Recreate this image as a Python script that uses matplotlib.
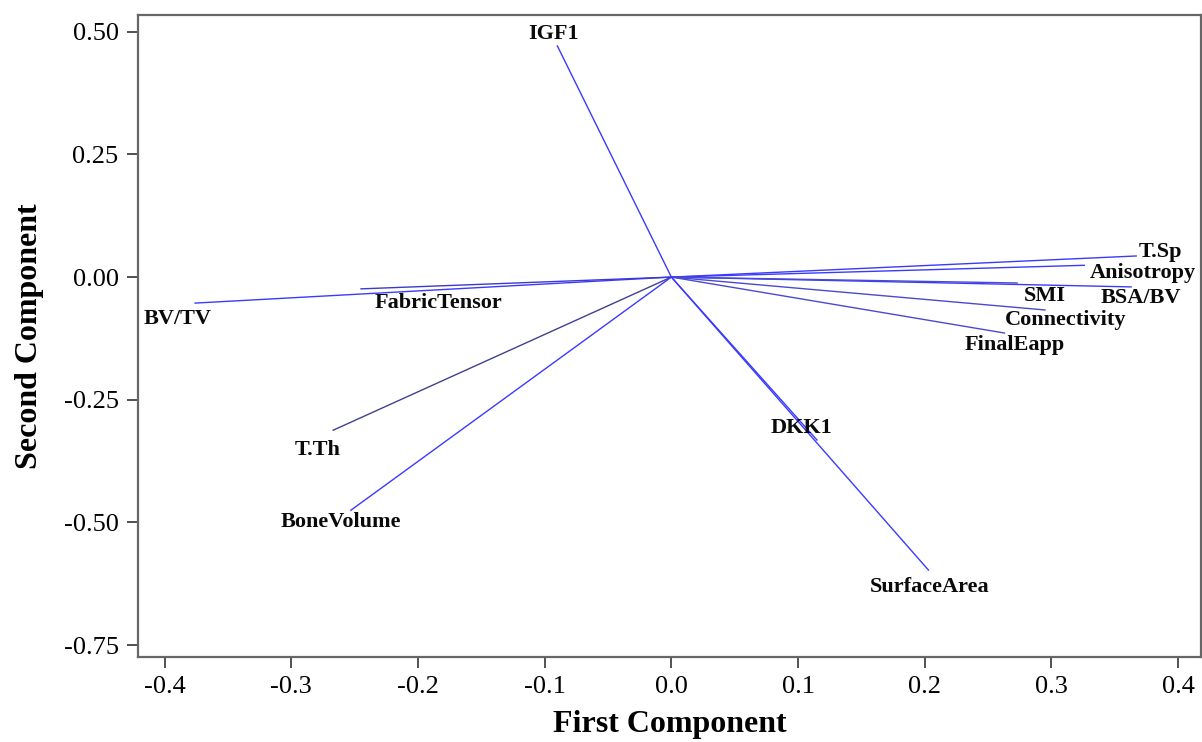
import matplotlib
matplotlib.use("Agg")
import matplotlib.pyplot as plt

# loadings on the first two principal components
variables = ["IGF1", "T.Sp", "Anisotropy", "BSA/BV", "SMI", "Connectivity",
             "FinalEapp", "BV/TV", "FabricTensor", "T.Th", "BoneVolume",
             "DKK1", "SurfaceArea"]
pc1 = [-0.090, 0.367, 0.326, 0.363, 0.273, 0.295,
       0.263, -0.376, -0.245, -0.267, -0.253, 0.115, 0.203]
pc2 = [0.471, 0.043, 0.024, -0.020, -0.012, -0.067,
       -0.114, -0.053, -0.024, -0.312, -0.475, -0.332, -0.597]

# where each name sits, relative to the tip of its line
lbl_dx = [-0.003, 0.019, 0.046, 0.008, 0.022, 0.016,
          0.008, -0.014, 0.061, -0.012, -0.008, -0.012, 0.001]
lbl_dy = [0.024, 0.008, -0.016, -0.023, -0.027, -0.021,
          -0.025, -0.033, -0.029, -0.041, -0.024, 0.024, -0.035]
line_col = ["#3a3aff", "#3a3aff", "#3a3aff", "#3a3aff", "#4a4ad0", "#4a4ad0",
            "#4a4ad0", "#3a3aff", "#3a3acc", "#404090", "#3a3aff",
            "#3a3aff", "#3a3aff"]

plt.rcParams["font.family"] = ["Liberation Serif", "DejaVu Serif"]

fig = plt.figure(figsize=(12.02, 7.42), dpi=100)
ax = fig.add_axes([0.1148, 0.1146, 0.8844, 0.8652])

for name, x, y, dx, dy, c in zip(variables, pc1, pc2, lbl_dx, lbl_dy, line_col):
    ax.plot([0, x], [0, y], color=c, lw=1.0)
    ax.text(x + dx, y + dy, name, ha="center", va="center",
            fontsize=16, fontweight="bold", color="#0a0a0a")

ax.set_xlim(-0.4211, 0.4182)
ax.set_ylim(-0.774, 0.534)
ax.set_xticks([-0.4, -0.3, -0.2, -0.1, 0.0, 0.1, 0.2, 0.3, 0.4])
ax.set_xticklabels(["-0.4", "-0.3", "-0.2", "-0.1", "0.0", "0.1", "0.2", "0.3", "0.4"])
ax.set_yticks([0.50, 0.25, 0.0, -0.25, -0.50, -0.75])
ax.set_yticklabels(["0.50", "0.25", "0.00", "-0.25", "-0.50", "-0.75"])
ax.tick_params(direction="out", length=8, width=1.2, labelsize=19,
               color="#333333", pad=6)
for sp in ax.spines.values():
    sp.set_color("#666666")
    sp.set_linewidth(1.6)

ax.set_xlabel("First Component", fontsize=23, fontweight="bold", labelpad=8)
ax.set_ylabel("Second Component", fontsize=23, fontweight="bold", labelpad=14)

fig.savefig("out.png")
